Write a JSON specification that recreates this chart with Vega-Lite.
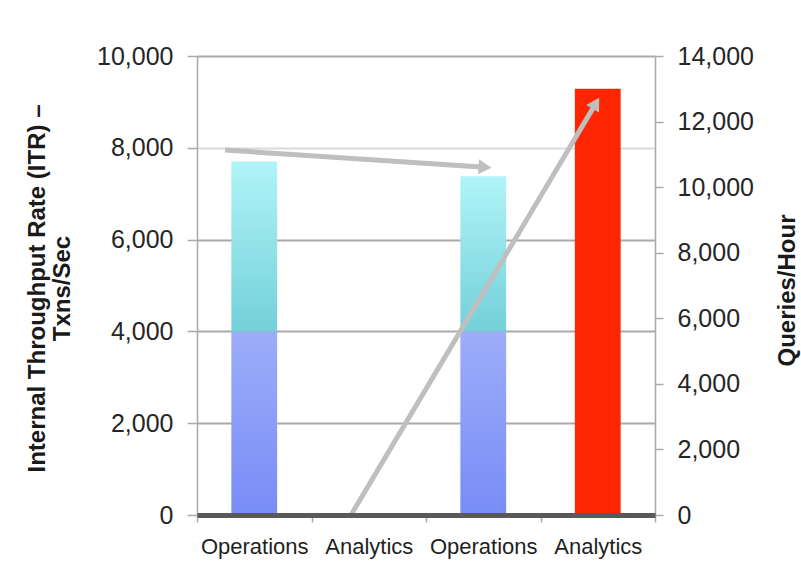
{
  "$schema": "https://vega.github.io/schema/vega-lite/v6.json",
  "width": 458,
  "height": 459,
  "autosize": {"type": "none"},
  "padding": {"left": 197, "top": 56, "right": 146, "bottom": 57},
  "background": "white",
  "config": {"view": {"stroke": null}, "font": "Liberation Sans"},
  "datasets": {
    "itr": [
      {"slot": "Operations#1", "part": "base", "low": 0, "high": 4000},
      {"slot": "Operations#1", "part": "extra", "low": 4000, "high": 7700},
      {"slot": "Operations#3", "part": "base", "low": 0, "high": 4000},
      {"slot": "Operations#3", "part": "extra", "low": 4000, "high": 7380}
    ],
    "qph": [{"slot": "Analytics#4", "queries": 13000}],
    "arrows": [
      {"arrow": "flat", "x": 0.245, "y": 7952},
      {"arrow": "flat", "x": 2.515, "y": 7577},
      {"arrow": "rise", "x": 1.345, "y": 0},
      {"arrow": "rise", "x": 3.484, "y": 8970}
    ]
  },
  "resolve": {"scale": {"x": "independent", "y": "independent"}, "axis": {"x": "independent", "y": "independent"}},
  "layer": [
    {
      "data": {"name": "itr"},
      "transform": [{"filter": "datum.part === 'base'"}],
      "mark": {"type": "bar", "width": {"band": 0.4}, "color": {"gradient": "linear", "x1": 0, "y1": 1, "x2": 0, "y2": 0, "stops": [{"offset": 0, "color": "#788cf7"}, {"offset": 1, "color": "#9dadf9"}]}},
      "encoding": {
        "x": {"field": "slot", "type": "nominal", "sort": null,
          "scale": {"domain": ["Operations#1", "Analytics#2", "Operations#3", "Analytics#4"], "paddingInner": 0, "paddingOuter": 0},
          "axis": {"title": null, "labelExpr": "isString(datum.value) ? split(datum.value, '#')[0] : ''", "labelAngle": 0, "labelFontSize": 22, "labelColor": "#1f1f1f", "labelPadding": 14, "tickBand": "extent", "tickSize": 7, "tickColor": "#a9a9a9", "tickWidth": 1.5, "domainColor": "#595959", "domainWidth": 5, "zindex": 1}},
        "y": {"field": "low", "type": "quantitative",
          "scale": {"domain": [0, 10000], "nice": false},
          "axis": {"orient": "left", "values": [0, 2000, 4000, 6000, 8000, 10000], "format": ",.0f", "grid": true,
            "gridColor": {"condition": {"test": "datum.value === 8000", "value": "#dadada"}, "value": "#a9a9a9"},
            "gridWidth": 2, "domainColor": "#a9a9a9", "domainWidth": 1.5, "tickColor": "#a9a9a9", "tickWidth": 1.5, "tickSize": 10,
            "labelFontSize": 25, "labelColor": "#262626", "labelPadding": 14,
            "title": ["Internal Throughput Rate (ITR) –", "Txns/Sec"], "titleFontSize": 24, "titleFontWeight": "bold", "titleColor": "#1a1a1a",
            "titleX": -148, "titleY": 232, "titleAngle": 270, "titleAlign": "center", "titleLineHeight": 25}},
        "y2": {"field": "high"}
      }
    },
    {
      "data": {"name": "itr"},
      "transform": [{"filter": "datum.part === 'extra'"}],
      "mark": {"type": "bar", "width": {"band": 0.4}, "color": {"gradient": "linear", "x1": 0, "y1": 1, "x2": 0, "y2": 0, "stops": [{"offset": 0, "color": "#74d0d9"}, {"offset": 1, "color": "#b0f4f8"}]}},
      "encoding": {
        "x": {"field": "slot", "type": "nominal", "sort": null,
          "scale": {"domain": ["Operations#1", "Analytics#2", "Operations#3", "Analytics#4"], "paddingInner": 0, "paddingOuter": 0},
          "axis": null},
        "y": {"field": "low", "type": "quantitative", "scale": {"domain": [0, 10000], "nice": false}, "axis": null},
        "y2": {"field": "high"}
      }
    },
    {
      "data": {"name": "qph"},
      "mark": {"type": "bar", "width": {"band": 0.4}, "color": "#fe2600"},
      "encoding": {
        "x": {"field": "slot", "type": "nominal", "sort": null,
          "scale": {"domain": ["Operations#1", "Analytics#2", "Operations#3", "Analytics#4"], "paddingInner": 0, "paddingOuter": 0},
          "axis": null},
        "y": {"field": "queries", "type": "quantitative",
          "scale": {"domain": [0, 14000], "nice": false},
          "axis": {"orient": "right", "values": [0, 2000, 4000, 6000, 8000, 10000, 12000, 14000], "format": ",.0f", "grid": false,
            "domainColor": "#a9a9a9", "domainWidth": 1.5, "tickColor": "#a9a9a9", "tickWidth": 1.5, "tickSize": 8,
            "labelFontSize": 25, "labelColor": "#262626", "labelPadding": 14,
            "title": "Queries/Hour", "titleFontSize": 24, "titleFontWeight": "bold", "titleColor": "#1a1a1a",
            "titleX": 132, "titleY": 234, "titleAngle": 270, "titleAlign": "center", "titleBaseline": "middle"}}
      }
    },
    {
      "data": {"name": "arrows"},
      "mark": {"type": "line", "color": "#bfbfbf", "strokeWidth": 5, "strokeCap": "butt"},
      "encoding": {
        "x": {"field": "x", "type": "quantitative", "scale": {"domain": [0, 4], "nice": false, "zero": false}, "axis": null},
        "y": {"field": "y", "type": "quantitative", "scale": {"domain": [0, 10000], "nice": false}, "axis": null},
        "detail": {"field": "arrow"}
      }
    },
    {
      "data": {"name": "arrows"},
      "transform": [{"filter": "datum.arrow === 'flat' && datum.x > 1"}],
      "mark": {"type": "point", "shape": "triangle-up", "filled": true, "color": "#bfbfbf", "opacity": 1, "size": 220, "angle": 94},
      "encoding": {
        "x": {"field": "x", "type": "quantitative", "scale": {"domain": [0, 4], "nice": false, "zero": false}, "axis": null},
        "y": {"field": "y", "type": "quantitative", "scale": {"domain": [0, 10000], "nice": false}, "axis": null}
      }
    },
    {
      "data": {"name": "arrows"},
      "transform": [{"filter": "datum.arrow === 'rise' && datum.x > 2"}],
      "mark": {"type": "point", "shape": "triangle-up", "filled": true, "color": "#bfbfbf", "opacity": 1, "size": 220, "angle": 31},
      "encoding": {
        "x": {"field": "x", "type": "quantitative", "scale": {"domain": [0, 4], "nice": false, "zero": false}, "axis": null},
        "y": {"field": "y", "type": "quantitative", "scale": {"domain": [0, 10000], "nice": false}, "axis": null}
      }
    }
  ]
}
